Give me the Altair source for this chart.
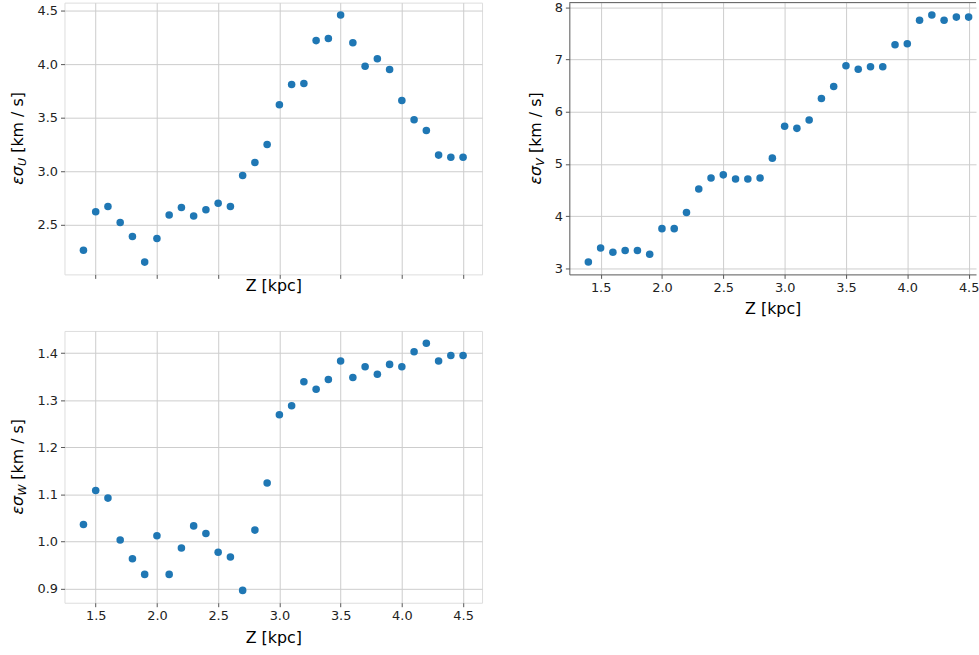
import altair as alt
import pandas as pd

z = [1.4, 1.5, 1.6, 1.7, 1.8, 1.9, 2.0, 2.1, 2.2, 2.3, 2.4, 2.5, 2.6, 2.7, 2.8, 2.9,
     3.0, 3.1, 3.2, 3.3, 3.4, 3.5, 3.6, 3.7, 3.8, 3.9, 4.0, 4.1, 4.2, 4.3, 4.4, 4.5]
sigma_u = [2.26, 2.62, 2.67, 2.52, 2.39, 2.15, 2.37, 2.59, 2.66, 2.58, 2.64, 2.70, 2.67, 2.96, 3.08, 3.25,
           3.62, 3.81, 3.82, 4.22, 4.24, 4.46, 4.20, 3.98, 4.05, 3.95, 3.66, 3.48, 3.38, 3.15, 3.13, 3.13]
sigma_v = [3.12, 3.39, 3.31, 3.34, 3.34, 3.27, 3.76, 3.76, 4.07, 4.52, 4.73, 4.79, 4.71, 4.71, 4.73, 5.11,
           5.72, 5.68, 5.84, 6.25, 6.48, 6.88, 6.81, 6.86, 6.86, 7.28, 7.30, 7.75, 7.85, 7.75, 7.81, 7.81]
sigma_w = [1.036, 1.108, 1.092, 1.003, 0.963, 0.930, 1.012, 0.930, 0.986, 1.033, 1.017, 0.977, 0.967, 0.896,
           1.024, 1.124, 1.269, 1.288, 1.339, 1.323, 1.344, 1.383, 1.348, 1.371, 1.355, 1.376, 1.371, 1.403,
           1.421, 1.383, 1.395, 1.395]

x_ticks = [1.5, 2.0, 2.5, 3.0, 3.5, 4.0, 4.5]
u_ticks = [2.5, 3.0, 3.5, 4.0, 4.5]
v_ticks = [3, 4, 5, 6, 7, 8]
w_ticks = [0.9, 1.0, 1.1, 1.2, 1.3, 1.4]

df = pd.DataFrame({"z": z, "u": sigma_u, "v": sigma_v, "w": sigma_w})

FONT = "DejaVu Sans"
SPINE = "#555555"
GRID = "#cccccc"
TXT = "#222222"
DOT = "#1f77b4"
W = 421
W_RIGHT = 410
H = 274
PX_PER_Z = 123.67
X_DOMAIN = [1.245, 4.655]
X_DOMAIN_RIGHT = [1.245, 1.245 + W_RIGHT / PX_PER_Z]


def y_title(sub, sub_w, cx, cy):
    w_a = 19.0
    w_gap = 5.0
    w_c = 61.0
    total = w_a + sub_w + w_gap + w_c
    y0 = cy + total / 2
    one = pd.DataFrame({"k": [0]})
    a = alt.Chart(one).mark_text(angle=270, align="left", baseline="alphabetic", font=FONT,
                                 fontSize=16, fontStyle="italic", color="black").encode(
        x=alt.value(cx), y=alt.value(y0), text=alt.value("εσ"))
    b = alt.Chart(one).mark_text(angle=270, align="left", baseline="alphabetic", font=FONT,
                                 fontSize=11.2, fontStyle="italic", color="black").encode(
        x=alt.value(cx + 3.5), y=alt.value(y0 - w_a), text=alt.value(sub))
    c = alt.Chart(one).mark_text(angle=270, align="left", baseline="alphabetic", font=FONT,
                                 fontSize=16, color="black").encode(
        x=alt.value(cx), y=alt.value(y0 - w_a - sub_w - w_gap), text=alt.value("[km / s]"))
    return [a, b, c]


def panel(col, ydomain, yticks, yfmt, sub, sub_w, xlabels, title_y, width, xdomain, title_cx, right=False):
    xaxis = alt.Axis(values=x_ticks, format=".1f", labels=xlabels, title="Z [kpc]",
                     titleY=title_y, titleBaseline="alphabetic", titleFont=FONT, titleFontSize=16,
                     titleFontWeight="normal", titleColor="black", labelFont=FONT, labelFontSize=13,
                     labelColor=TXT, labelPadding=3, labelFlush=False, labelOverlap=False,
                     tickSize=4, tickColor=SPINE, tickWidth=1, grid=True, gridColor=GRID,
                     gridWidth=1, domain=right, domainColor=SPINE, domainWidth=1)
    yaxis = alt.Axis(values=yticks, format=yfmt, title=None, labelFont=FONT, labelFontSize=13,
                     labelColor=TXT, labelPadding=3, labelFlush=False, labelOverlap=False,
                     tickSize=4, tickColor=SPINE, tickWidth=1, grid=True, gridColor=GRID,
                     gridWidth=1, domain=right, domainColor=SPINE, domainWidth=1)
    pts = alt.Chart(df).mark_circle(size=58, color=DOT, opacity=1).encode(
        x=alt.X("z:Q", scale=alt.Scale(domain=xdomain, nice=False, zero=False), axis=xaxis),
        y=alt.Y(f"{col}:Q", scale=alt.Scale(domain=ydomain, nice=False, zero=False), axis=yaxis),
    )
    layers = [pts] + y_title(sub, sub_w, title_cx, H / 2)
    if right:
        top = alt.Chart(pd.DataFrame({"k": [0]})).mark_rule(color=SPINE, strokeWidth=1).encode(
            x=alt.value(0), x2=alt.value(width), y=alt.value(0))
        layers.append(top)
        ch = alt.layer(*layers).properties(width=width, height=H, view=alt.ViewBackground(stroke=None))
    else:
        ch = alt.layer(*layers).properties(width=width, height=H)
    return ch


tl = panel("u", [2.035, 4.575], u_ticks, ".1f", "U", 8.2, False, 16, W, X_DOMAIN, -42)
tr = panel("v", [2.884, 8.087], v_ticks, "d", "V", 7.7, True, 39, W_RIGHT, X_DOMAIN_RIGHT, -29, right=True)
bl = panel("w", [0.8698, 1.447], w_ticks, ".1f", "W", 11.0, True, 40, W, X_DOMAIN, -42)

chart = alt.concat(tl, tr, bl, columns=2, spacing={"row": 57, "column": 88}, bounds="flush").properties(
    padding={"left": 9, "top": -2, "right": 0, "bottom": 0}
).configure_view(stroke=SPINE, strokeWidth=1).configure(background="white")

chart.save("out.html", embed_options={"renderer": "svg", "actions": False})
